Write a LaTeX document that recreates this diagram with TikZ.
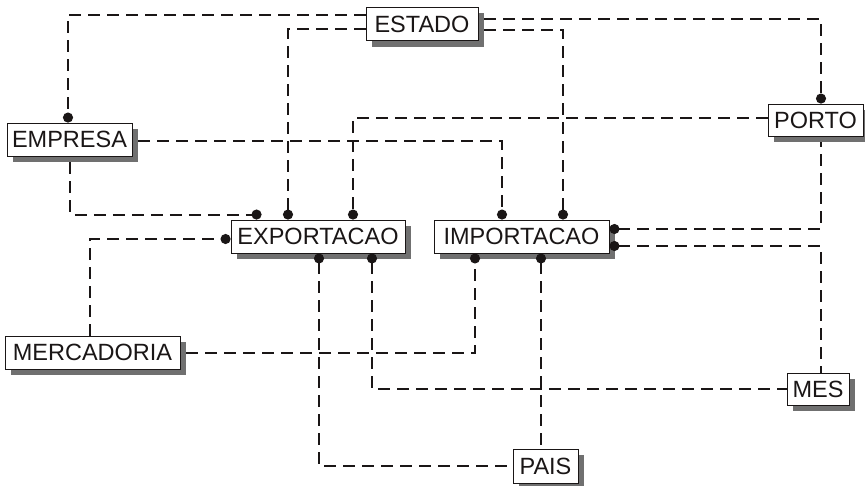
\documentclass[tikz,border=0pt]{standalone}
\usepackage{fontspec}
\setmainfont{Liberation Sans}
\usetikzlibrary{arrows.meta,calc}
\pgfdeclarelayer{shadowlayer}
\pgfdeclarelayer{boxlayer}
\pgfsetlayers{shadowlayer,main,boxlayer}
\definecolor{shadowgray}{RGB}{112,112,112}
\definecolor{ink}{RGB}{26,22,22}
\begin{document}
\begin{tikzpicture}[x=1pt,y=-1pt,
  entity/.style={draw=ink,line width=0.9pt,fill=white,inner sep=0pt,text=ink,font=\fontsize{23.5}{23.5}\selectfont},
  conn/.style={draw=ink,line width=2.1pt,dash pattern=on 12pt off 7pt},
  dotend/.style={-{Circle[length=10pt,width=10pt]}},
  dotstart/.style={{Circle[length=10pt,width=10pt]}-}]
\useasboundingbox (0,0) rectangle (865,485);
\begin{pgfonlayer}{boxlayer}
\node[entity,minimum width=112pt,minimum height=33pt] (ESTADO) at (422,24) {ESTADO};
\node[entity,minimum width=125pt,minimum height=33pt] (EMPRESA) at (69.5,139.5) {EMPRESA};
\node[entity,minimum width=174pt,minimum height=33pt] (EXPORTACAO) at (318,236.5) {EXPORTACAO};
\node[entity,minimum width=175pt,minimum height=33pt] (IMPORTACAO) at (521.5,236.5) {IMPORTACAO};
\node[entity,minimum width=95pt,minimum height=32pt] (PORTO) at (815.5,120) {PORTO};
\node[entity,minimum width=175pt,minimum height=33pt] (MERCADORIA) at (92.5,352.5) {MERCADORIA};
\node[entity,minimum width=62pt,minimum height=32pt] (MES) at (818,389) {MES};
\node[entity,minimum width=65pt,minimum height=34pt] (PAIS) at (545.5,466) {PAIS};
\end{pgfonlayer}
\begin{pgfonlayer}{shadowlayer}
\foreach \n in {ESTADO,EMPRESA,EXPORTACAO,IMPORTACAO,PORTO,MERCADORIA,MES,PAIS}
  \fill[shadowgray] ($(\n.south west)+(6,6)$) rectangle ($(\n.north east)+(6,6)$);
\end{pgfonlayer}
\draw[conn,dotend] (ESTADO.west |- 0,15) -| (68,0 |- EMPRESA.north);
\draw[conn,dotend] (ESTADO.west |- 0,29) -| (288,0 |- EXPORTACAO.north);
\draw[conn,dotend] ($(ESTADO.east |- 0,19)+(6,0)$) -| (821,0 |- PORTO.north);
\draw[conn,dotend] ($(ESTADO.east |- 0,30)+(6,0)$) -| (563,0 |- IMPORTACAO.north);
\draw[conn,dotend] ($(EMPRESA.east |- 0,141)+(6,0)$) -| (502,0 |- IMPORTACAO.north);
\draw[conn,dotend] (PORTO.west |- 0,118) -| (353,0 |- EXPORTACAO.north);
\draw[conn,dotend] ($(70,0 |- EMPRESA.south)+(0,6)$) |- ($(EXPORTACAO.north west)+(31,-5)$);
\draw[conn,dotend] (90,0 |- MERCADORIA.north) |- (EXPORTACAO.west |- 0,239);
\draw[conn,dotend] ($(MERCADORIA.east |- 0,353)+(6,0)$) -| (475,0 |- IMPORTACAO.south);
\draw[conn,dotstart] (319,0 |- EXPORTACAO.south) |- (PAIS.west |- 0,466);
\draw[conn,dotstart] (372,0 |- EXPORTACAO.south) |- (MES.west |- 0,389);
\draw[conn,dotstart] (541,0 |- IMPORTACAO.south) -- (541,0 |- PAIS.north);
\draw[conn,dotstart] (IMPORTACAO.east |- 0,229) -| ($(821,0 |- PORTO.south)+(0,6)$);
\draw[conn,dotstart] (IMPORTACAO.east |- 0,246) -| (821,0 |- MES.north);
\end{tikzpicture}
\end{document}
